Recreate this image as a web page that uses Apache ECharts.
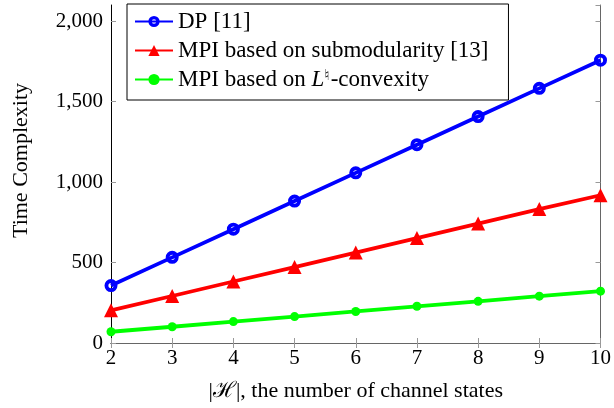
<!DOCTYPE html>
<html><head><meta charset="utf-8">
<script src="https://cdn.jsdelivr.net/npm/echarts@6/dist/echarts.min.js"></script>
<style>html,body{margin:0;padding:0;background:#fff}#c{width:614px;height:408px}</style>
</head><body><div id="c"></div>
<script>
const xValues = [2, 3, 4, 5, 6, 7, 8, 9, 10];
const dpValues = [357, 532, 707, 882, 1057, 1232, 1407, 1582, 1757];
const submodValues = [203, 292, 382, 472, 562, 652, 742, 832, 918];
const lnatValues = [70, 101, 133, 164, 196, 228, 259, 291, 322];
const seriesNames = ['DP [11]', 'MPI based on submodularity [13]', 'MPI based on L♮-convexity'];
const xAxisTitle = '|ℋ|, the number of channel states';
const yAxisTitle = 'Time Complexity';

const FONT = '"Liberation Serif", "DejaVu Serif", serif';
const RING = 'path://M0,-6 A6,6 0 1,1 0,6 A6,6 0 1,1 0,-6 Z M0,-2.4 A2.4,2.4 0 1,0 0,2.4 A2.4,2.4 0 1,0 0,-2.4 Z';
const pairs = v => xValues.map((x, i) => [x, v[i]]);
const fmt = v => String(v).replace(/\B(?=(\d{3})+(?!\d))/g, ',');

const chart = echarts.init(document.getElementById('c'), null, {renderer: 'canvas'});
chart.setOption({
  animation: false,
  backgroundColor: '#fff',
  grid: {left: 111, right: 11, top: 5, bottom: 65, containLabel: false},
  xAxis: [{
    type: 'value', min: 2, max: 10, interval: 1,
    name: xAxisTitle, nameLocation: 'middle', nameGap: 37,
    nameTextStyle: {fontFamily: FONT, fontSize: 22, color: '#000'},
    axisLine: {show: true, lineStyle: {color: '#000', width: 1}},
    axisTick: {show: true, inside: true, length: 5, lineStyle: {color: '#999'}},
    axisLabel: {fontFamily: FONT, fontSize: 21, color: '#000', margin: 5},
    splitLine: {show: false}
  }, {
    type: 'value', min: 2, max: 10, interval: 1, position: 'top',
    axisLine: {show: true, lineStyle: {color: '#666', width: 1}},
    axisTick: {show: true, inside: true, length: 5, lineStyle: {color: '#999'}},
    axisLabel: {show: false}, splitLine: {show: false}
  }],
  yAxis: [{
    type: 'value', min: 0, max: 2100, interval: 500,
    name: yAxisTitle, nameLocation: 'middle', nameGap: 79, nameRotate: 90,
    nameTextStyle: {fontFamily: FONT, fontSize: 22, color: '#000', padding: [0, 0, 0, 27]},
    axisLine: {show: true, lineStyle: {color: '#000', width: 1}},
    axisTick: {show: true, inside: true, length: 5, lineStyle: {color: '#999'}},
    axisLabel: {fontFamily: FONT, fontSize: 21, color: '#000', margin: 8, showMaxLabel: false,
      formatter: v => (v % 500 === 0 ? fmt(v) : '')},
    splitLine: {show: false}
  }, {
    type: 'value', min: 0, max: 2100, interval: 500, position: 'right',
    axisLine: {show: true, lineStyle: {color: '#666', width: 1}},
    axisTick: {show: true, inside: true, length: 5, lineStyle: {color: '#999'}},
    axisLabel: {show: false}, splitLine: {show: false}
  }],
  legend: {
    orient: 'vertical', left: 127, top: 4,
    padding: [6, 20, 9, 7], itemGap: 6,
    itemWidth: 38, itemHeight: 14,
    backgroundColor: '#fff', borderColor: '#000', borderWidth: 1, borderRadius: 0,
    data: seriesNames,
    formatter: name => name === seriesNames[2] ? 'MPI based on {i|L}{s|♮}-convexity' : name,
    textStyle: {fontFamily: FONT, fontSize: 23, color: '#000', lineHeight: 22,
      rich: {
        i: {fontFamily: FONT, fontSize: 23, fontStyle: 'italic', color: '#000', lineHeight: 22},
        s: {fontFamily: '"DejaVu Sans", sans-serif', fontSize: 15, color: '#000', verticalAlign: 'top', lineHeight: 22, padding: [0, 1, 6, 0]}
      }}
  },
  series: [{
    name: seriesNames[0], type: 'line', data: pairs(dpValues),
    lineStyle: {color: '#0000ff', width: 3.8}, itemStyle: {color: '#0000ff', borderWidth: 0},
    symbol: RING, symbolSize: 13, z: 3
  }, {
    name: seriesNames[1], type: 'line', data: pairs(submodValues),
    lineStyle: {color: '#ff0000', width: 3.8}, itemStyle: {color: '#ff0000'},
    symbol: 'triangle', symbolSize: 14, z: 3
  }, {
    name: seriesNames[2], type: 'line', data: pairs(lnatValues),
    lineStyle: {color: '#00ff00', width: 3.8}, itemStyle: {color: '#00ff00'},
    symbol: 'circle', symbolSize: 9, z: 3
  }]
});
</script></body></html>
